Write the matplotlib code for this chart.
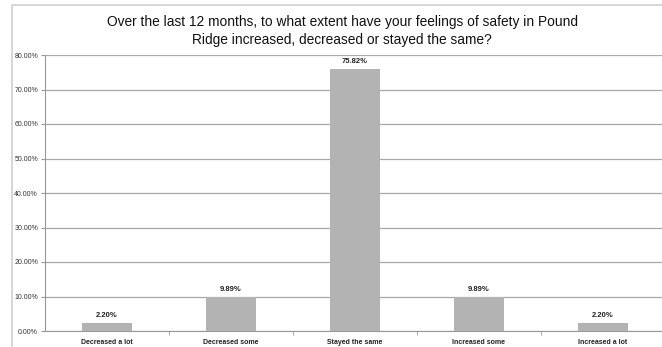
import numpy as np
import matplotlib.pyplot as plt
from matplotlib.patches import Rectangle

categories = ['Decreased a lot', 'Decreased some', 'Stayed the same',
              'Increased some', 'Increased a lot']
percents = [2.20, 9.89, 75.82, 9.89, 2.20]
title = ('Over the last 12 months, to what extent have your feelings of safety in Pound\n'
         'Ridge increased, decreased or stayed the same?')

plt.rcParams['font.family'] = ['Liberation Sans', 'DejaVu Sans']

fig = plt.figure(figsize=(6.62, 3.47), dpi=100)
# chart area border
fig.patches.append(Rectangle((12 / 662, -0.01), 1.0, 1.0 - 5 / 347 + 0.01,
                             transform=fig.transFigure, fill=False,
                             edgecolor='#d0d0d0', lw=1.2))

ax = fig.add_axes([45 / 662, 16 / 347, 620 / 662, 276 / 347])
x = np.arange(len(categories))
bars = ax.bar(x, percents, width=0.4, color='#b3b3b3', zorder=3)

for b, v in zip(bars, percents):
    ax.text(b.get_x() + b.get_width() / 2, v + 1.2, f'{v:.2f}%',
            ha='center', va='bottom', fontsize=5.5, fontweight='bold', color='#222222')

ax.set_xlim(-0.5, len(categories) - 0.5)
ax.set_ylim(0, 80)
ax.set_yticks(np.arange(0, 81, 10))
ax.set_yticklabels([f'{t:.2f}%' for t in np.arange(0, 81, 10)], fontsize=5, color='#333333')
ax.set_xticks(x)
ax.set_xticklabels(categories, fontsize=5, fontweight='bold', color='#222222')
ax.set_xticks(np.arange(0.5, len(categories) - 1, 1), minor=True)
ax.tick_params(axis='x', which='major', length=0, pad=6)
ax.tick_params(axis='x', which='minor', length=3, color='#999999')
ax.tick_params(axis='y', length=3, color='#999999', pad=2)

ax.grid(axis='y', color='#a8a8a8', lw=0.9, zorder=0)
for s in ['top', 'right']:
    ax.spines[s].set_visible(False)
ax.spines['left'].set_color('#999999')
ax.spines['bottom'].set_color('#999999')

fig.text(0.517, 1 - 31 / 347, title, ha='center', va='center', fontsize=9.9,
         color='#111111', linespacing=1.3)

fig.savefig('out.png', dpi=100)
